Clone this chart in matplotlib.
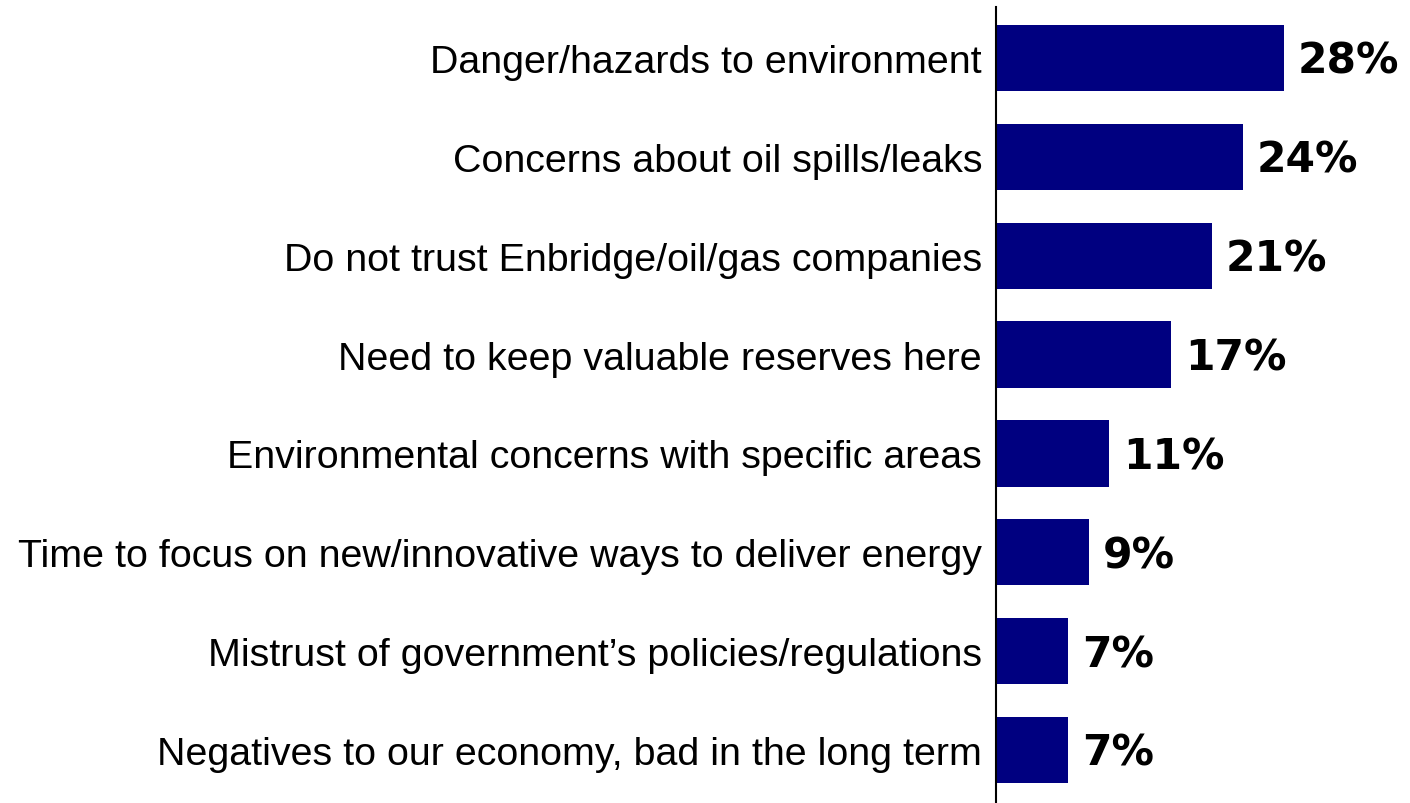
import matplotlib
matplotlib.use("Agg")
import matplotlib.pyplot as plt
from matplotlib.transforms import offset_copy

categories = [
    "Danger/hazards to environment",
    "Concerns about oil spills/leaks",
    "Do not trust Enbridge/oil/gas companies",
    "Need to keep valuable reserves here",
    "Environmental concerns with specific areas",
    "Time to focus on new/innovative ways to deliver energy",
    "Mistrust of government\u2019s policies/regulations",
    "Negatives to our economy, bad in the long term",
]
values = [28, 24, 21, 17, 11, 9, 7, 7]
value_labels = ["28%", "24%", "21%", "17%", "11%", "9%", "7%", "7%"]

W, H = 1410, 804
fig = plt.figure(figsize=(W / 100, H / 100), dpi=100)
ax_left, ax_right = 996, 1408
ax_top, ax_bottom = 8, 804
ax = fig.add_axes([ax_left / W, 1 - ax_bottom / H, (ax_right - ax_left) / W, (ax_bottom - ax_top) / H])

ypos = list(range(len(categories)))
ax.barh(ypos, values, height=0.67, color="#000080", zorder=2)

px_per_unit = (751 - 59) / 7
ax.set_ylim(7 + (ax_bottom - 751) / px_per_unit, -(59 - ax_top) / px_per_unit)
ax.set_xlim(0, (ax_right - ax_left) / 10.29)

for s in ["top", "right", "bottom"]:
    ax.spines[s].set_visible(False)
ax.spines["left"].set_linewidth(1.5)
ax.spines["left"].set_color("black")
ax.set_xticks([])
ax.set_yticks(ypos)
ax.set_yticklabels(categories, fontsize=28.4, family="Liberation Sans")
ax.tick_params(axis="y", length=0, pad=10)

for y, v, lab in zip(ypos, values, value_labels):
    tr = offset_copy(ax.transData, fig=fig, x=14, y=-3, units="dots")
    ax.text(v, y, lab, transform=tr, ha="left", va="center", fontsize=30.5,
            fontweight="bold", family="DejaVu Sans", color="black")

fig.savefig("out.png", dpi=100)
